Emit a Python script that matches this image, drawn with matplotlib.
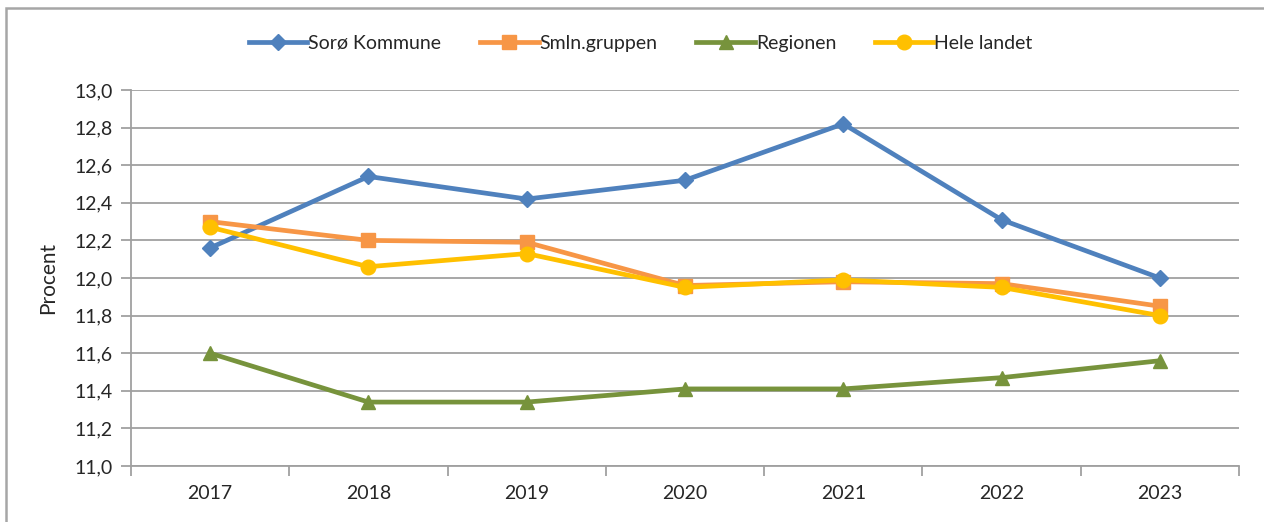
import matplotlib
matplotlib.use('Agg')
import matplotlib.pyplot as plt
from matplotlib.ticker import FuncFormatter, FixedLocator, NullFormatter
from matplotlib.patches import Rectangle

plt.rcParams['font.family'] = ['Lato', 'DejaVu Sans']

years = ['2017', '2018', '2019', '2020', '2021', '2022', '2023']
soroe = [12.16, 12.54, 12.42, 12.52, 12.82, 12.31, 12.00]
smln = [12.30, 12.20, 12.19, 11.96, 11.98, 11.97, 11.85]
regionen = [11.60, 11.34, 11.34, 11.41, 11.41, 11.47, 11.56]
hele_landet = [12.27, 12.06, 12.13, 11.95, 11.99, 11.95, 11.80]

fig = plt.figure(figsize=(12.64, 5.22), dpi=100)
ax = fig.add_axes([131/1264, 56/522, 1108/1264, 376/522])

# ramme omkring diagrammet
fig.patches.append(Rectangle((6/1264, -0.1), 1.2, (522-8)/522 + 0.1,
                             transform=fig.transFigure, fill=False,
                             edgecolor='#a6a6a6', linewidth=1.8))

x = list(range(len(years)))
ax.plot(x, soroe, color='#4F81BD', lw=3.4, marker='D', ms=8.5, label='Sorø Kommune')
ax.plot(x, smln, color='#F79646', lw=3.4, marker='s', ms=10, label='Smln.gruppen')
ax.plot(x, regionen, color='#77933C', lw=3.4, marker='^', ms=10.5, label='Regionen')
ax.plot(x, hele_landet, color='#FFC000', lw=3.4, marker='o', ms=10.5, label='Hele landet')

ax.set_xlim(-0.5, len(years) - 0.5)
ax.set_ylim(11.0, 13.0)
ax.set_yticks([11.0 + 0.2 * i for i in range(11)])
ax.yaxis.set_major_formatter(FuncFormatter(lambda v, p: f'{v:.1f}'.replace('.', ',')))
ax.grid(axis='y', color='#a0a0a0', lw=1.3)
ax.set_axisbelow(True)

ax.set_xticks(x)
ax.set_xticklabels(years)
ax.xaxis.set_minor_locator(FixedLocator([i - 0.5 for i in range(len(years) + 1)]))
ax.xaxis.set_minor_formatter(NullFormatter())
ax.tick_params(axis='x', which='major', length=0, pad=14, labelsize=14, colors='#262626')
ax.tick_params(axis='x', which='minor', length=7, width=1.3, color='#a0a0a0')
ax.tick_params(axis='y', length=7, width=1.3, color='#a0a0a0', labelsize=14,
               labelcolor='#262626', pad=6)

for s in ['top', 'right']:
    ax.spines[s].set_visible(False)
for s in ['left', 'bottom']:
    ax.spines[s].set_color('#a0a0a0')
    ax.spines[s].set_linewidth(1.3)

ax.set_ylabel('Procent', fontsize=15, color='#262626', labelpad=12)

fig.legend(loc='center', bbox_to_anchor=(0.507, 0.917), ncol=4, frameon=False,
           fontsize=14, handlelength=3.0, handletextpad=0.05, columnspacing=2.0,
           labelcolor='#262626')

fig.savefig('out.png', dpi=100)
